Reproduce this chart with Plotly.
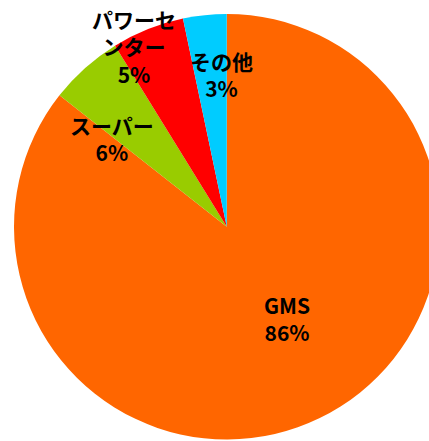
import plotly.graph_objects as go

categories = ["GMS", "スーパー", "パワーセンター", "その他"]
values = [85.6, 5.6, 5.5, 3.3]
label_text = ["GMS<br>86%", "スーパー<br>6%", "パワーセ<br>ンター<br>5%", "その他<br>3%"]
colors = ["#FF6600", "#99CC00", "#FF0000", "#00CCFF"]

W, H = 442, 441
# label block centres (pixels)
label_pos = [(287, 318), (112, 138), (134, 47), (221, 74)]

fig = go.Figure(go.Pie(
    labels=categories, values=values, sort=False, direction="clockwise",
    rotation=0, textinfo="none", hoverinfo="label+percent",
    marker=dict(colors=colors, line=dict(width=0)),
    domain=dict(x=[14 / W, 439.5 / W], y=[1 - 439.5 / H, 1 - 14 / H]),
    showlegend=False,
))

for t, (px, py) in zip(label_text, label_pos):
    fig.add_annotation(x=px / W, y=1 - py / H, xref="paper", yref="paper",
                       text=t, showarrow=False, xanchor="center", yanchor="middle",
                       font=dict(family="Noto Sans CJK JP", size=21, color="black",
                                 weight="bold"))

fig.update_layout(width=W, height=H, margin=dict(l=0, r=0, t=0, b=0),
                  paper_bgcolor="white", plot_bgcolor="white")
fig.write_html("out.html")
